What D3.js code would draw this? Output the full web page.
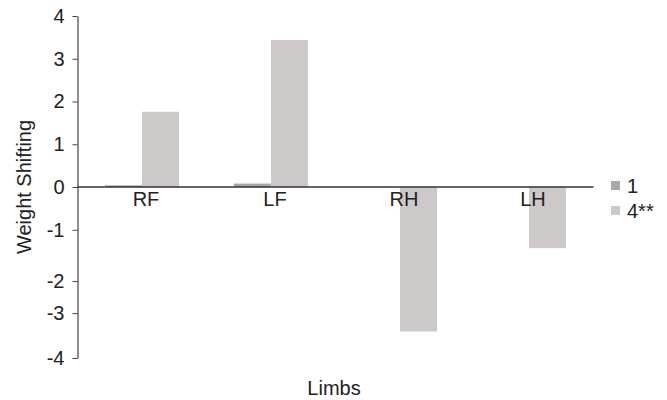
<!DOCTYPE html>
<html><head><meta charset="utf-8">
<script src="https://cdn.jsdelivr.net/npm/d3@7"></script>
<style>body{margin:0;background:#fff}svg{display:block}text{font-family:"Liberation Sans",Arial,sans-serif;fill:#222}</style>
</head><body>
<svg id="c" width="667" height="400"></svg>
<script>
const categories = ["RF","LF","RH","LH"];
const seriesNames = ["1","4**"];
const series1 = [0.04, 0.08, 0, 0];
const series2 = [1.76, 3.44, -3.38, -1.43];
const seriesColors = ["#aaa6a6","#cdc9c9"];
// tick labels as printed in the original figure (its axis spacing is uneven)
const tickLabels = ["4","3","2","1","0","-1","-2","-3","-4"];
const tickPositions = [4,3,2,1,0,-1,-2.2,-2.95,-4];

(function(){
const svg = d3.select("#c");
const mL = 77.5, mR = 593.5, mT = 16, mB = 358;
const FS = 20;
const y = d3.scaleLinear().domain([-4,4]).range([mB, mT]);
const x = d3.scaleBand().domain(categories).range([mL, mR]).paddingInner(0.426).paddingOuter(0.213);
const xs = d3.scaleBand().domain(seriesNames).range([0, x.bandwidth()]);

const data = [series1, series2];
data.forEach((vals, si) => {
  svg.append("g").selectAll("rect").data(vals.map((v,i)=>({v, c:categories[i]}))).join("rect")
    .attr("x", d => x(d.c) + xs(seriesNames[si]))
    .attr("width", xs.bandwidth())
    .attr("y", d => y(Math.max(0, d.v)))
    .attr("height", d => Math.abs(y(d.v) - y(0)))
    .attr("fill", seriesColors[si]);
});

const yAxis = d3.axisLeft(y).tickValues(tickPositions).tickFormat((d,i)=>tickLabels[i]).tickSize(5).tickSizeOuter(0);
const gy = svg.append("g").attr("transform", `translate(${mL},0)`).call(yAxis);
gy.select(".domain").attr("stroke", "#444").attr("stroke-width", 1.2);
gy.selectAll(".tick line").attr("stroke", "#444");
gy.selectAll(".tick text").attr("font-size", FS).attr("x", -13).style("font-family", '"Liberation Sans",Arial,sans-serif').attr("fill", "#222");

svg.append("line").attr("x1", mL).attr("x2", mR).attr("y1", y(0)).attr("y2", y(0)).attr("stroke", "#333").attr("stroke-width", 1.3);

svg.append("g").selectAll("text").data(categories).join("text")
  .attr("x", d => x(d) + x.bandwidth()/2 + 4)
  .attr("y", y(0) + 19)
  .attr("text-anchor", "middle").attr("font-size", FS).text(d => d);

svg.append("text").attr("transform", `translate(31,187) rotate(-90)`)
  .attr("text-anchor", "middle").attr("font-size", FS).text("Weight Shifting");
svg.append("text").attr("x", 334).attr("y", 395).attr("text-anchor", "middle").attr("font-size", FS).text("Limbs");

const lg = svg.append("g").attr("transform", "translate(611,185)");
seriesNames.forEach((n,i) => {
  lg.append("rect").attr("x", 0).attr("y", i*25 - 4).attr("width", 9).attr("height", 9).attr("fill", seriesColors[i]);
  lg.append("text").attr("x", 16).attr("y", i*25 + 8).attr("font-size", FS).text(n);
});
})();
</script>
</body></html>
